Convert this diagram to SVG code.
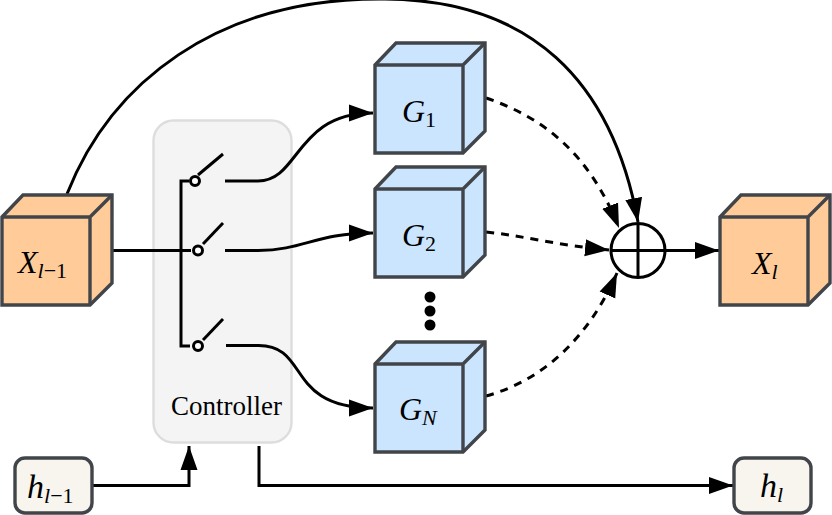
<svg xmlns="http://www.w3.org/2000/svg" width="832" height="515" viewBox="0 0 832 515">
  <defs>
    <marker id="arrow" markerUnits="userSpaceOnUse" markerWidth="26" markerHeight="20" refX="24" refY="10" orient="auto">
      <path d="M0 1.500 L24 10 L0 18.500 Z" fill="#000"/>
    </marker>
    <g id="cube">
      <path class="face" d="M0 22 L21 0 L110 0 L110 88 L88 110 L0 110 Z"/>
      <path class="edge" d="M0 22 L88 22 L88 110 M88 22 L110 0"/>
    </g>
  </defs>
  <style>
    .face { stroke: #41454a; stroke-width: 3.4; stroke-linejoin: miter; }
    .edge { fill: none; stroke: #41454a; stroke-width: 3.4; }
    .orange { fill: #ffcc99; }
    .blue { fill: #cce5ff; }
    .line { fill: none; stroke: #000; stroke-width: 3; }
    .arrowed { marker-end: url(#arrow); }
    .dash { stroke-dasharray: 8 7; }
    .state { fill: #f8f5ee; stroke: #41454a; stroke-width: 3.4; }
    .pole { fill: #fff; stroke: #000; stroke-width: 3; }
    text { font-family: "Liberation Serif", "Times New Roman", serif; fill: #000; }
    .math { font-style: italic; font-size: 32px; }
    .big { font-size: 34px; }
    .sub { font-size: 22px; }
    .up { font-style: normal; }
  </style>

  <g id="controller">
    <rect x="153.500" y="120.500" width="138" height="322" rx="20" fill="#f4f4f4" stroke="#dddddd" stroke-width="2.400"/>
    <text x="226.500" y="415" font-size="27" text-anchor="middle">Controller</text>
  </g>

  <g id="connectors">
    <path class="line arrowed" d="M67 194 C110 85 215 -3 385 -1 C530 0 612 80 638 222"/>
    <path class="line" d="M113 250.500 H191"/>
    <path class="line" d="M189 181 H181 V346 H190"/>
    <path class="line" d="M198 175 L223 154"/>
    <path class="line" d="M203 244 L223 223"/>
    <path class="line" d="M203 340 L223 319"/>
    <path class="line arrowed" d="M225 181 H258 C300 181 295 113 373 113"/>
    <path class="line arrowed" d="M225 250.500 H258 C305 250 315 233 373 233"/>
    <path class="line arrowed" d="M226 345.500 H258 C310 345 285 408 373 408"/>
    <path class="line dash arrowed" d="M486 98 C545 118 590 155 619 228"/>
    <path class="line dash arrowed" d="M486 232 C525 236 555 245 609 250"/>
    <path class="line dash arrowed" d="M486 396 C545 380 590 335 617 273"/>
    <path class="line arrowed" d="M665 250.500 H719"/>
    <path class="line arrowed" d="M92 485.500 H189 V446"/>
    <path class="line arrowed" d="M259 446 V485.500 H733"/>
  </g>

  <g id="switch-poles">
    <circle class="pole" cx="195" cy="181" r="4.500"/>
    <circle class="pole" cx="198" cy="250.500" r="4.500"/>
    <circle class="pole" cx="198" cy="346" r="4.500"/>
  </g>

  <g id="x-prev">
    <use href="#cube" class="orange" x="2" y="195"/>
    <text class="math" x="18" y="273">X<tspan class="sub" dy="5">l<tspan class="up">−1</tspan></tspan></text>
  </g>
  <g id="g-1">
    <use href="#cube" class="blue" x="375" y="43"/>
    <text class="math" x="402" y="122">G<tspan class="sub up" dy="5">1</tspan></text>
  </g>
  <g id="g-2">
    <use href="#cube" class="blue" x="375" y="167"/>
    <text class="math" x="402" y="246">G<tspan class="sub up" dy="5">2</tspan></text>
  </g>
  <g id="ellipsis">
    <circle cx="430" cy="297" r="5.500"/>
    <circle cx="430" cy="311" r="5.500"/>
    <circle cx="430" cy="325" r="5.500"/>
  </g>
  <g id="g-n">
    <use href="#cube" class="blue" x="375" y="342"/>
    <text class="math" x="399" y="420">G<tspan class="sub" dy="5">N</tspan></text>
  </g>
  <g id="sum">
    <circle cx="638" cy="250.500" r="27" fill="#fff" stroke="#000" stroke-width="3"/>
    <path class="line" d="M611 250.500 H665 M638 223.500 V277.500"/>
  </g>
  <g id="x-next">
    <use href="#cube" class="orange" x="720" y="195"/>
    <text class="math" x="752" y="274">X<tspan class="sub" dy="5">l</tspan></text>
  </g>
  <g id="h-prev">
    <rect class="state" x="15" y="458" width="77" height="55" rx="10"/>
    <text class="math big" x="27" y="498">h<tspan class="sub" dy="5">l<tspan class="up">−1</tspan></tspan></text>
  </g>
  <g id="h-next">
    <rect class="state" x="734" y="458" width="77" height="55" rx="10"/>
    <text class="math big" x="760" y="497">h<tspan class="sub" dy="5">l</tspan></text>
  </g>
</svg>
